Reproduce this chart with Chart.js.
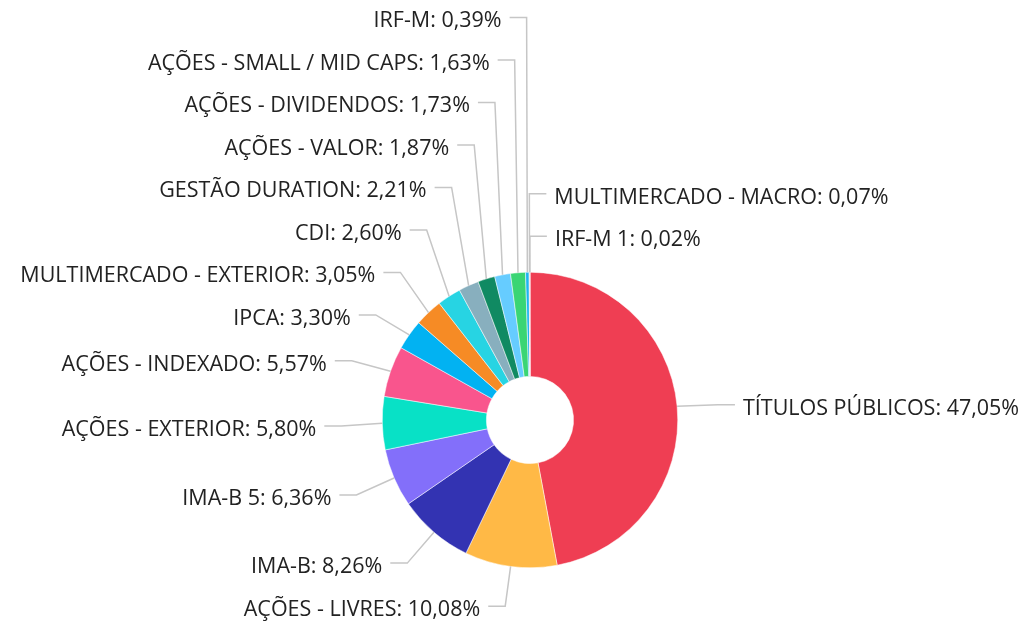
<!DOCTYPE html>
<html>
<head>
<meta charset="utf-8">
<script src="https://cdn.jsdelivr.net/npm/chart.js@4"></script>
<style>
  html, body { margin: 0; padding: 0; background: #fff; }
  #wrap { width: 1026px; height: 623px; position: relative; }
</style>
</head>
<body>
<div id="wrap"><canvas id="pieChart"></canvas></div>
<script>
const categories = [
  'TÍTULOS PÚBLICOS', 'AÇÕES - LIVRES', 'IMA-B', 'IMA-B 5', 'AÇÕES - EXTERIOR',
  'AÇÕES - INDEXADO', 'IPCA', 'MULTIMERCADO - EXTERIOR', 'CDI', 'GESTÃO DURATION',
  'AÇÕES - VALOR', 'AÇÕES - DIVIDENDOS', 'AÇÕES - SMALL / MID CAPS', 'IRF-M',
  'MULTIMERCADO - MACRO', 'IRF-M 1'
];
const values = [47.05, 10.08, 8.26, 6.36, 5.80, 5.57, 3.30, 3.05, 2.60, 2.21, 1.87, 1.73, 1.63, 0.39, 0.07, 0.02];
const colors = [
  '#EF3E53', '#FFB946', '#3333B2', '#836FFA', '#08E1C6', '#F9558D', '#02B2F2', '#F68B25',
  '#27D4E3', '#88AFBE', '#108A62', '#66CCFF', '#3AD574', '#1EB4F0', '#F7A35C', '#8085E9'
];

const fmt = v => v.toFixed(2).replace('.', ',') + '%';

// outside labels with leader lines
const outsideLabels = {
  id: 'outsideLabels',
  afterDraw(chart) {
    const ctx = chart.ctx;
    const arcs = chart.getDatasetMeta(0).data;
    const gap = 42.5, top = 17, bottom = 610;
    const items = arcs.map((arc, i) => {
      const a = (arc.startAngle + arc.endAngle) / 2;
      const r = arc.outerRadius;
      const ex = arc.x + r * Math.cos(a);
      const ey = arc.y + r * Math.sin(a);
      let t = a + Math.PI / 2; // angle from top, clockwise
      return {
        i, a, r, cx: arc.x, cy: arc.y, ex, ey,
        right: ex - arc.x > -2,
        t: t > Math.PI ? t - 2 * Math.PI : t,
        y: arc.y + 2 + (r + 38) * Math.sin(a)
      };
    });

    const spread = list => {
      for (let k = list.length - 2; k >= 0; k--) list[k].y = Math.min(list[k].y, list[k + 1].y - gap);
      if (list.length && list[list.length - 1].y > bottom) list[list.length - 1].y = bottom;
      for (let k = 0; k < list.length; k++) {
        const lim = k === 0 ? top : list[k - 1].y + gap;
        list[k].y = Math.max(list[k].y, lim);
      }
    };
    const rightSide = items.filter(o => o.right).sort((p, q) => p.t - q.t);
    const leftSide = items.filter(o => !o.right).sort((p, q) => p.y - q.y);
    spread(rightSide);
    spread(leftSide);

    ctx.save();
    ctx.font = '21.5px "Open Sans"';
    ctx.textBaseline = 'alphabetic';
    items.forEach(o => {
      const bx = o.cx + (o.r + 41) * Math.cos(o.a);
      const dir = o.right ? 1 : -1;
      const hx = bx + dir * 17;
      ctx.strokeStyle = '#c6c6c6';
      ctx.lineWidth = 1.5;
      ctx.beginPath();
      ctx.moveTo(o.ex, o.ey);
      ctx.lineTo(bx, o.y);
      ctx.lineTo(hx, o.y);
      ctx.stroke();
      ctx.fillStyle = '#222222';
      ctx.textAlign = o.right ? 'left' : 'right';
      ctx.fillText(categories[o.i] + ': ' + fmt(values[o.i]), hx + dir * 8, o.y + 10);
    });
    ctx.restore();
  }
};

const ctx = document.getElementById('pieChart').getContext('2d');
new Chart(ctx, {
  type: 'doughnut',
  data: {
    labels: categories,
    datasets: [{
      data: values,
      backgroundColor: colors,
      borderColor: '#ffffff',
      borderWidth: 0.5
    }]
  },
  options: {
    responsive: true,
    maintainAspectRatio: false,
    animation: false,
    cutout: '29.5%',
    layout: { padding: { top: 272, bottom: 55, left: 382, right: 348 } },
    plugins: {
      legend: { display: false },
      tooltip: { enabled: false }
    }
  },
  plugins: [outsideLabels]
});
</script>
</body>
</html>
